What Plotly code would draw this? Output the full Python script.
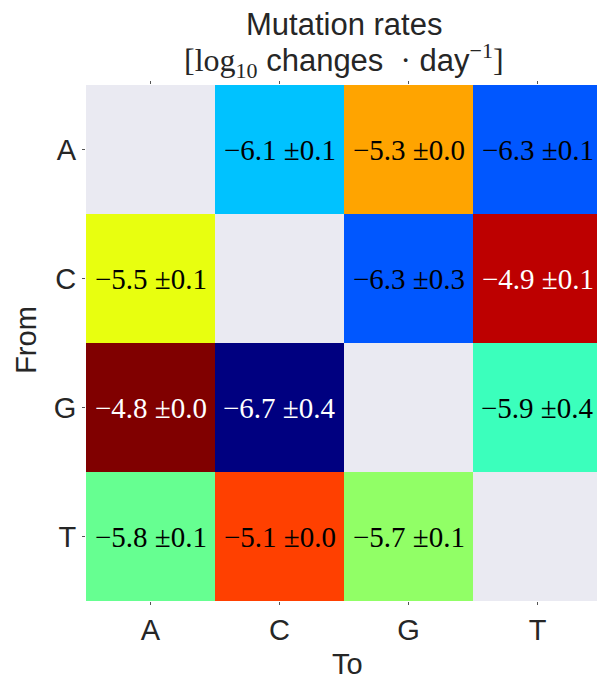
import plotly.graph_objects as go

# Nucleotide substitution rates (log10 changes per day), rows = "From", cols = "To"
bases = ["A", "C", "G", "T"]
rate_A = [None, -6.1, -5.3, -6.3]
rate_C = [-5.5, None, -6.3, -4.9]
rate_G = [-4.8, -6.7, None, -5.9]
rate_T = [-5.8, -5.1, -5.7, None]
err_A = [None, 0.1, 0.0, 0.1]
err_C = [0.1, None, 0.3, 0.1]
err_G = [0.0, 0.4, None, 0.4]
err_T = [0.1, 0.0, 0.1, None]

rates = [rate_A, rate_C, rate_G, rate_T]
errs = [err_A, err_C, err_G, err_T]

ZMIN, ZMAX = -6.7, -4.8

# matplotlib "jet" segment data, turned into a plotly colorscale
jet_seg = {
    "r": [(0, 0), (0.35, 0), (0.66, 1), (0.89, 1), (1, 0.5)],
    "g": [(0, 0), (0.125, 0), (0.375, 1), (0.64, 1), (0.91, 0), (1, 0)],
    "b": [(0, 0.5), (0.11, 1), (0.34, 1), (0.65, 0), (1, 0)],
}


def interp(pts, t):
    for (x0, y0), (x1, y1) in zip(pts, pts[1:]):
        if x0 <= t <= x1:
            return y0 + (y1 - y0) * (t - x0) / (x1 - x0) if x1 > x0 else y1
    return pts[-1][1]


stops = sorted({x for seg in jet_seg.values() for x, _ in seg})
jet = [
    [t, "rgb(%d,%d,%d)" % tuple(round(255 * interp(jet_seg[c], t)) for c in "rgb")]
    for t in stops
]

TXT = "#262626"
SANS = "Liberation Sans, Arial, sans-serif"
SERIF = "Liberation Serif, Times New Roman, serif"

fig = go.Figure(
    go.Heatmap(
        z=rates,
        x=list(range(4)),
        y=list(range(4)),
        colorscale=jet,
        zmin=ZMIN,
        zmax=ZMAX,
        showscale=False,
        hoverongaps=False,
        xgap=0,
        ygap=0,
    )
)

annotations = []
for i, row in enumerate(rates):
    for j, v in enumerate(row):
        if v is None:
            continue
        t = (v - ZMIN) / (ZMAX - ZMIN)
        color = "white" if (t < 0.15 or t > 0.9) else "black"
        annotations.append(
            dict(
                x=j, y=i, xref="x", yref="y",
                text="\u2212%.1f \u00b1%.1f" % (abs(v), errs[i][j]),
                showarrow=False,
                font=dict(family=SERIF, size=29, color=color),
            )
        )


def serif(s, px):
    return '<span style="font-family:Liberation Serif;font-size:%dpx">%s</span>' % (px, s)


# Title (two lines) and axis titles
annotations += [
    dict(x=0.505, y=1.118, xref="paper", yref="paper", text="Mutation rates",
         showarrow=False, xanchor="center", yanchor="middle",
         font=dict(family=SANS, size=31, color=TXT)),
    dict(x=0.505, y=1.048, xref="paper", yref="paper",
         text=(serif("[log", 32) + "<sub>" + serif("10", 22) + "</sub>"
               + " changes  " + serif("\u00b7", 31) + " day"
               + "<sup>" + serif("\u22121", 22) + "</sup>"
               + serif("]", 32)),
         showarrow=False, xanchor="center", yanchor="middle",
         font=dict(family=SANS, size=31, color=TXT)),
    dict(x=0.511, y=-0.122, xref="paper", yref="paper", text="To",
         showarrow=False, xanchor="center", yanchor="middle",
         font=dict(family=SANS, size=29, color=TXT)),
    dict(x=-0.1175, y=0.506, xref="paper", yref="paper", text="From",
         showarrow=False, xanchor="center", yanchor="middle", textangle=-90,
         font=dict(family=SANS, size=29, color=TXT)),
]

fig.update_layout(
    width=597,
    height=684,
    autosize=False,
    margin=dict(l=86, r=0, t=85, b=83),
    paper_bgcolor="white",
    plot_bgcolor="#EAEAF2",
    annotations=annotations,
    showlegend=False,
)
fig.update_xaxes(
    range=[-0.5, 3.461],
    tickvals=list(range(4)),
    ticktext=bases,
    ticks="outside",
    ticklen=3,
    tickcolor="#555555",
    mirror="ticks",
    showgrid=False,
    zeroline=False,
    showline=False,
    tickfont=dict(family=SANS, size=29, color=TXT),
)
fig.update_yaxes(
    range=[3.5, -0.5],
    tickvals=list(range(4)),
    ticktext=bases,
    ticks="outside",
    ticklen=3,
    tickcolor="#555555",
    showgrid=False,
    zeroline=False,
    showline=False,
    tickfont=dict(family=SANS, size=29, color=TXT),
)

fig.write_html("out.html")
